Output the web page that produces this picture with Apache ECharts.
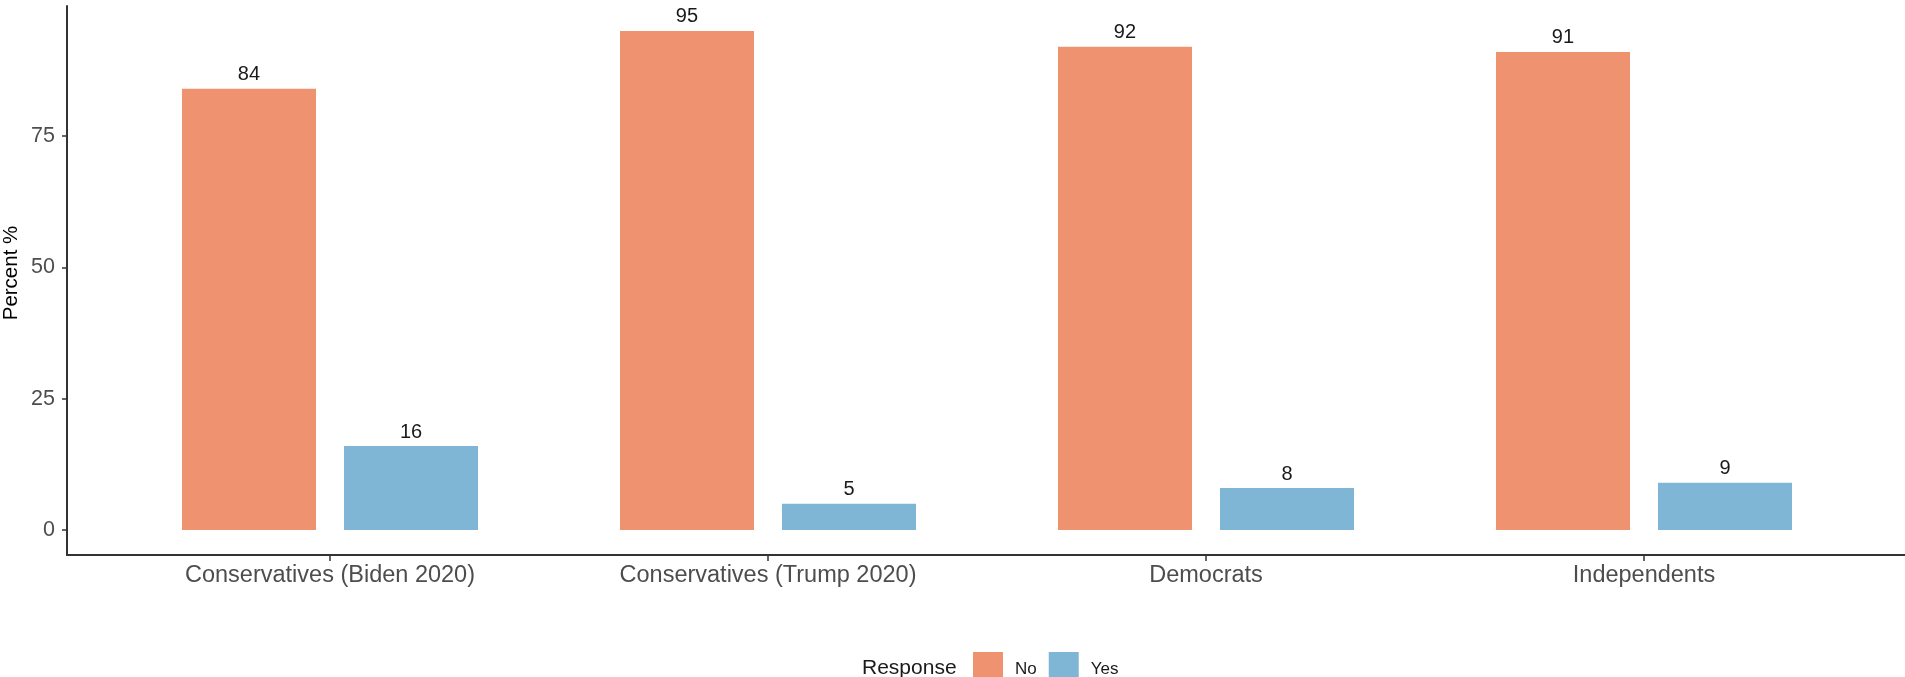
<!DOCTYPE html>
<html>
<head>
<meta charset="utf-8">
<script src="https://cdn.jsdelivr.net/npm/echarts@6/dist/echarts.min.js"></script>
<style>
html,body{margin:0;padding:0;background:#fff;}
#chart{width:1905px;height:677px;}
</style>
</head>
<body>
<div id="chart"></div>
<script>
const categories = ['Conservatives (Biden 2020)', 'Conservatives (Trump 2020)', 'Democrats', 'Independents'];
const noValues = [84, 95, 92, 91];
const yesValues = [16, 5, 8, 9];
const yTicks = [0, 25, 50, 75];
const seriesNames = ['No', 'Yes'];

const FONT = 'Liberation Sans, Arial, Helvetica, sans-serif';
const yMin = -4.75, yMax = 99.75;
const gridTop = 6, gridBottom = 122;

const chart = echarts.init(document.getElementById('chart'), null, {renderer: 'canvas'});
chart.setOption({
  animation: false,
  backgroundColor: '#ffffff',
  textStyle: {fontFamily: FONT},
  grid: [
    {left: 67, right: 0, top: gridTop, bottom: gridBottom, containLabel: false},
    {left: 111, width: 1752, top: gridTop, bottom: gridBottom, containLabel: false}
  ],
  xAxis: [
    {type: 'value', gridIndex: 0, min: 0, max: 1,
     axisLine: {show: true, onZero: false, lineStyle: {color: '#333333', width: 2}},
     axisTick: {show: false}, axisLabel: {show: false}, splitLine: {show: false}},
    {type: 'category', gridIndex: 1, data: categories,
     axisLine: {show: true, onZero: false, lineStyle: {color: '#333333', width: 2}},
     axisTick: {show: true, alignWithLabel: true, length: 6, lineStyle: {color: '#333333', width: 1.5}},
     axisLabel: {color: '#4d4d4d', fontSize: 23.5, margin: 9, fontFamily: FONT},
     splitLine: {show: false}}
  ],
  yAxis: [
    {type: 'value', gridIndex: 0, min: yMin, max: yMax,
     axisLine: {show: true, onZero: false, lineStyle: {color: '#333333', width: 2}},
     axisTick: {show: true, customValues: yTicks, length: 5, lineStyle: {color: '#333333', width: 1.5}},
     axisLabel: {show: true, customValues: yTicks, color: '#4d4d4d', fontSize: 21.5, margin: 12, fontFamily: FONT},
     splitLine: {show: false}},
    {type: 'value', gridIndex: 1, min: yMin, max: yMax, show: false, splitLine: {show: false}}
  ],
  title: {
    text: 'Response', left: 857, top: 653,
    textStyle: {fontSize: 21, fontWeight: 'normal', color: '#1a1a1a', fontFamily: FONT}
  },
  legend: {
    data: seriesNames, left: 968, top: 647, orient: 'horizontal',
    itemWidth: 30, itemHeight: 34, itemGap: 12, icon: 'rect',
    textStyle: {fontSize: 17, color: '#1a1a1a', fontFamily: FONT, padding: [0, 0, 0, 7]}
  },
  graphic: [{
    type: 'text', x: 11, y: 273, rotation: Math.PI / 2,
    style: {text: 'Percent %', fontSize: 20.5, fill: '#000000', fontFamily: FONT,
            align: 'center', verticalAlign: 'middle'}
  }],
  series: [
    {name: 'No', type: 'bar', xAxisIndex: 1, yAxisIndex: 1, data: noValues,
     barWidth: 134, barGap: '20.9%', itemStyle: {color: '#EE9270'},
     label: {show: true, position: 'top', distance: 4, fontSize: 20, color: '#1a1a1a', fontFamily: FONT}},
    {name: 'Yes', type: 'bar', xAxisIndex: 1, yAxisIndex: 1, data: yesValues,
     barWidth: 134, barGap: '20.9%', itemStyle: {color: '#7FB6D5'},
     label: {show: true, position: 'top', distance: 4, fontSize: 20, color: '#1a1a1a', fontFamily: FONT}}
  ]
});
</script>
</body>
</html>
